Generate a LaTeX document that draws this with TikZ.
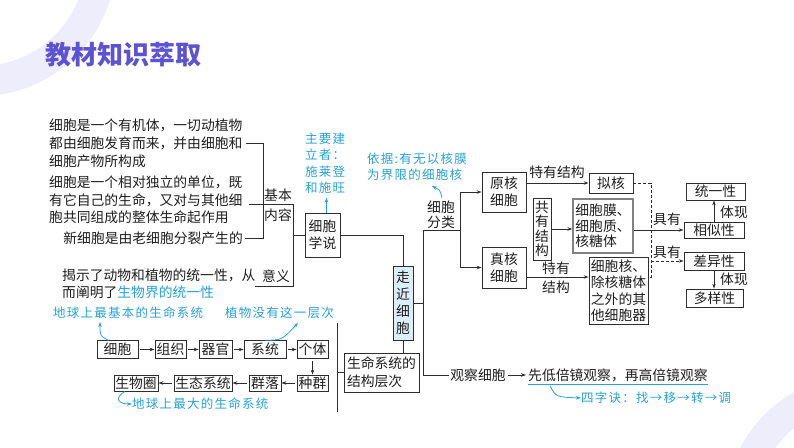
\documentclass[tikz,border=0pt]{standalone}
\usepackage{fontspec}
\newfontfamily\cjk{Noto Sans CJK SC}
\newfontfamily\cjkblue[LetterSpace=10]{Noto Sans CJK SC}
\usetikzlibrary{arrows.meta}
\definecolor{linec}{RGB}{45,45,45}
\definecolor{txtc}{RGB}{30,30,30}
\definecolor{bluec}{RGB}{38,162,212}
\definecolor{titlec}{RGB}{92,82,212}
\definecolor{ringc}{RGB}{238,237,251}
\definecolor{fillb}{RGB}{220,239,248}
\definecolor{grayb}{RGB}{130,130,130}
\begin{document}
\begin{tikzpicture}[x=1pt,y=-1pt,
  txt/.style={font=\cjk\fontsize{13.8}{17}\selectfont, inner sep=0pt, text=txtc},
  bx/.style={txt, draw=linec, line width=0.8pt, align=center},
  ln/.style={draw=linec, line width=0.8pt},
  arr/.style={ln, -{Stealth[length=5pt,width=3.5pt]}},
  btxt/.style={font=\cjkblue\fontsize{12.5}{16.5}\selectfont, text=bluec, inner sep=0pt, align=left},
  barr/.style={draw=bluec, line width=0.8pt, -{Stealth[length=5pt,width=3.5pt]}},
]
\useasboundingbox (0,0) rectangle (794,447);
\begin{scope}
\clip (0,0) rectangle (794,447);
\fill[ringc, even odd rule] (-20,-40) circle (136pt) (-20,-40) circle (106pt);
\fill[ringc, even odd rule] (860,510) circle (135pt) (860,510) circle (105pt);
\end{scope}

% title
\node[font=\cjk\bfseries\fontsize{26}{30}\selectfont, text=titlec, anchor=west, inner sep=0pt] (title) at (45,55) {教材知识萃取};

% left texts
\node[txt, anchor=west, align=left, font=\cjk\fontsize{13.8}{18}\selectfont] (p1) at (49,143) {细胞是一个有机体，一切动植物\\都由细胞发育而来，并由细胞和\\细胞产物所构成};
\node[txt, anchor=west, align=left, font=\cjk\fontsize{13.8}{17.75}\selectfont] (p2) at (49,200) {细胞是一个相对独立的单位，既\\有它自己的生命，又对与其他细\\胞共同组成的整体生命起作用};
\node[txt, anchor=east] (p3) at (243,238) {新细胞是由老细胞分裂产生的};
\node[txt, anchor=west, align=left, font=\cjk\fontsize{13.8}{17}\selectfont] (m) at (62,283.5) {揭示了动物和植物的统一性，从\\而阐明了\textcolor{bluec}{生物界的统一性}};

\node[txt] (jiben) at (278,195) {基本};
\node[txt] (neirong) at (278,215) {内容};
\node[txt] (yiyi) at (276,276) {意义};

\coordinate (k1) at (293,204);
\coordinate (k2) at (293,286);
\coordinate (k3) at (255,286);
\coordinate (k4) at (293,235);
\draw[ln] ([xshift=3pt]p1.east) -- (263,143) |- ([xshift=2pt]p3.east);
\draw[ln] ([shift={(6,4)}]p2.east) -- (k1) -- (k2) -- (k3);

% cell theory
\node[bx, minimum width=35pt, minimum height=44pt, font=\cjk\fontsize{13.8}{17}\selectfont] (xsx) at (322.5,235) {细胞\\学说};
\draw[ln] (k4) -- (xsx.west);
\node[btxt, anchor=west] (zyjl) at (305,163) {主要建\\立者：\\施莱登\\和施旺};
\draw[barr] ([xshift=4pt]xsx.north) -- ++(0,-15);

% central
\node[bx, fill=fillb, minimum width=20pt, minimum height=74pt, font=\cjk\fontsize{13.8}{17}\selectfont] (zjxb) at (403,303) {走\\近\\细\\胞};
\draw[ln] (xsx.east) -| (zjxb.north);
\node[bx, align=left, minimum width=75pt, minimum height=39pt, font=\cjk\fontsize{13.8}{18}\selectfont] (smxt) at (381.5,372.5) {生命系统的\\结构层次};
\draw[ln] (zjxb.south) -- (zjxb.south |- smxt.north);

\coordinate (t1) at (423,230);
\coordinate (t2) at (423,375);
\coordinate (fl) at (460,230);
\draw[ln] (zjxb.east) -- (zjxb.east -| t1);
\draw[ln] (t1) -- (t2);
\draw[ln] (t1) -- (fl);
\node[txt, align=center, font=\cjk\fontsize{13.8}{15}\selectfont] (xbfl) at (441,214.5) {细胞\\分类};
\node[btxt, anchor=west] (yj) at (367,167) {依据:有无以核膜\\为界限的细胞核};
\coordinate (yja) at (442,198);
\coordinate (yjb) at (432,186);
\draw[barr] (yja) .. controls (440,190) .. (yjb);

\node[bx, minimum width=44pt, minimum height=40pt, font=\cjk\fontsize{13.8}{17}\selectfont] (yh) at (504,192) {原核\\细胞};
\node[bx, minimum width=44pt, minimum height=41pt, font=\cjk\fontsize{13.8}{17}\selectfont] (zh) at (504,267.5) {真核\\细胞};
\draw[arr] (fl) |- (yh.west);
\draw[arr] (fl) |- (zh.west);

% observation
\node[txt] (gcxb) at (478,375) {观察细胞};
\draw[ln] (t2) -- ([xshift=-1pt]gcxb.west);
\node[txt, anchor=west] (xdb) at (528,375) {先低倍镜观察，再高倍镜观察};
\draw[arr] ([xshift=2pt]gcxb.east) -- ([xshift=-2pt]xdb.west);
\draw[draw=bluec, line width=0.6pt] ([shift={(0,3)}]xdb.south west) -- ([shift={(0,3)}]xdb.south east);
\node[btxt, anchor=west] (szj) at (581,398) {四字诀：找→移→转→调};
\draw[barr] ([shift={(22,4)}]xdb.south west) .. controls (556,397) .. (szj.west);

% right side
\node[txt] (tyjg1) at (557,172) {特有结构};
\node[bx, minimum width=44pt, minimum height=20pt] (nh) at (611,183) {拟核};
\draw[arr] (yh.east |- nh.west) -- (nh.west);

\node[bx, minimum width=18pt, minimum height=62pt, font=\cjk\fontsize{13.8}{14.5}\selectfont] (gyjg) at (542,229) {共\\有\\结\\构};
\node[bx, draw=grayb, line width=1.2pt, align=left, minimum width=60pt, minimum height=54pt, font=\cjk\fontsize{13.8}{15.5}\selectfont] (xbm) at (603,226) {细胞膜、\\细胞质、\\核糖体};
\draw[arr] (gyjg.east) -- (gyjg.east -| xbm.west);

\node[bx, minimum width=59pt, minimum height=17pt] (tyx) at (715.5,191.5) {统一性};
\node[bx, minimum width=60pt, minimum height=16pt] (xsx2) at (714,230) {相似性};
\draw[arr] (xbm.east |- xsx2.west) -- (xsx2.west);
\node[txt] (jy1) at (667,219) {具有};
\draw[arr] (xsx2.north) -- (xsx2.north |- tyx.south);
\node[txt] (tx1) at (734,212) {体现};

\node[bx, minimum width=60pt, minimum height=18pt] (cyx) at (714,261) {差异性};
\node[bx, minimum width=57pt, minimum height=18pt] (dyx) at (714.5,298) {多样性};
\draw[arr] (cyx.south) -- (cyx.south |- dyx.north);
\node[txt] (tx2) at (734,279) {体现};
\node[txt] (jy2) at (667,252) {具有};

\node[bx, align=left, minimum width=59pt, minimum height=67pt, font=\cjk\fontsize{13.8}{16.5}\selectfont] (xbh) at (618.5,290.5) {细胞核、\\除核糖体\\之外的其\\他细胞器};
\coordinate (a5) at (527,277);
\draw[arr] (a5) -- (a5 -| xbh.west);
\node[txt] (ty2) at (556,268) {特有};
\node[txt] (jg2) at (556,287) {结构};

\coordinate (dv1) at (651,183);
\coordinate (dv2) at (651,277);
\draw[ln, dash pattern=on 3pt off 2pt] (nh.east) -- (dv1) -- (dv2) -- (dv2 -| xbh.east);
\draw[arr, dash pattern=on 3pt off 2pt] (dv1 |- cyx.west) -- (cyx.west);

% levels chain
\node[bx, minimum width=41pt, minimum height=17.5pt] (c1) at (117.5,349.5) {细胞};
\node[bx, minimum width=31pt, minimum height=17.5pt] (c2) at (170.5,349.5) {组织};
\node[bx, minimum width=33pt, minimum height=17.5pt] (c3) at (215.5,349.5) {器官};
\node[bx, minimum width=42pt, minimum height=17.5pt] (c4) at (265,349.5) {系统};
\node[bx, minimum width=31pt, minimum height=17.5pt] (c5) at (312.5,349.5) {个体};
\node[bx, minimum width=31pt, minimum height=16pt] (c6) at (312.5,383) {种群};
\node[bx, minimum width=32pt, minimum height=16pt] (c7) at (265,383) {群落};
\node[bx, minimum width=58pt, minimum height=16pt] (c8) at (203,383) {生态系统};
\node[bx, minimum width=44pt, minimum height=16pt] (c9) at (136,383) {生物圈};
\draw[arr, shorten <=2pt] (c1) -- (c2);
\draw[arr, shorten <=2pt] (c2) -- (c3);
\draw[arr, shorten <=2pt] (c3) -- (c4);
\draw[arr, shorten <=2pt] (c4) -- (c5);
\draw[arr, shorten <=2pt] (c5) -- (c6);
\draw[arr, shorten <=2pt] (c6) -- (c7);
\draw[arr, shorten <=2pt] (c7) -- (c8);
\draw[arr, shorten <=2pt] (c8) -- (c9);

\coordinate (v1) at (337,323);
\coordinate (v2) at (337,412);
\draw[ln] (v1) -- (v2);
\draw[ln] (v1 |- smxt.west) -- (smxt.west);

\node[btxt, anchor=west] (a1) at (53,313) {地球上最基本的生命系统};
\node[btxt, anchor=west] (a2) at (225,313) {植物没有这一层次};
\node[btxt, anchor=west] (a3) at (132,404) {地球上最大的生命系统};
\coordinate (a1e) at (100,322);
\coordinate (a2e) at (298,323);
\draw[barr] ([xshift=-9pt]c1.north) .. controls (100,336) .. (a1e);
\draw[barr] (c4.north) .. controls (282,340) .. (a2e);
\draw[barr] ([xshift=-11pt]c9.south) .. controls (114,398) and (118,404) .. (a3.west);
\end{tikzpicture}
\end{document}
